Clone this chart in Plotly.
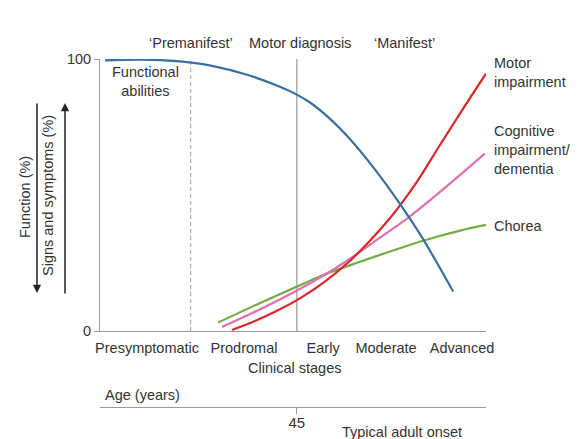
import plotly.graph_objects as go

# ---- data (x = disease progression 0..100, y = % ) ----
func_x = [1.3, 10.4, 20.7, 29.3, 38.1, 46.6, 51.0, 54.4, 59.6, 64.8, 69.9, 75.1, 77.7, 83.7, 91.5]
func_y = [99.5, 99.8, 99.1, 97.4, 94.2, 89.8, 86.9, 84.0, 78.0, 70.5, 61.8, 52.0, 46.7, 33.8, 14.5]

motor_x = [34.2, 40.0, 46.0, 52.0, 58.0, 64.0, 70.0, 76.0, 82.0, 88.0, 94.0, 100.0]
motor_y = [0.4, 3.6, 7.5, 12.2, 17.9, 24.8, 33.3, 43.0, 54.6, 68.2, 81.6, 94.6]

cog_x = [31.6, 41.5, 51.3, 57.8, 64.2, 70.7, 79.8, 86.3, 93.0, 99.7]
cog_y = [1.5, 8.0, 15.1, 20.3, 26.0, 32.5, 41.6, 49.0, 57.0, 65.2]

chorea_x = [30.6, 41.5, 51.3, 57.8, 66.6, 75.1, 83.7, 93.3, 100.0]
chorea_y = [3.1, 10.3, 16.5, 20.6, 25.1, 29.2, 33.2, 36.9, 39.0]

stage_pos = [12.2, 37.3, 57.8, 74.1, 93.8]
stage_labels = ["Presymptomatic", "Prodromal", "Early", "Moderate", "Advanced"]

premanifest_boundary = 23.5
motor_diagnosis = 51.0
phase_pos = [23.6, 51.8, 79.0]
phase_labels = ["\u2018Premanifest\u2019", "Motor diagnosis", "\u2018Manifest\u2019"]

age_tick_pos = [51.0]
age_tick_labels = ["45"]

FONT = "Liberation Sans, Arial, sans-serif"
TXT = "#333333"
AX = "#9a9a9a"
FS = 14.5

fig = go.Figure()

# stage boundaries
fig.add_trace(go.Scatter(x=[premanifest_boundary] * 2, y=[0, 100], mode="lines",
                         line=dict(color="#a0a0a0", width=1, dash="4px,3px"),
                         hoverinfo="skip", showlegend=False))
fig.add_trace(go.Scatter(x=[motor_diagnosis] * 2, y=[0, 100], mode="lines",
                         line=dict(color="#a0a0a0", width=1.3),
                         hoverinfo="skip", showlegend=False))

series = [
    (chorea_x, chorea_y, "#74ad45"),
    (cog_x, cog_y, "#e070b0"),
    (motor_x, motor_y, "#d8282c"),
    (func_x, func_y, "#3b6f9e"),
]
for xs, ys, c in series:
    fig.add_trace(go.Scatter(x=xs, y=ys, mode="lines",
                             line=dict(color=c, width=2.2, shape="spline", smoothing=0.8),
                             showlegend=False, cliponaxis=False))

# invisible trace so the age axis is drawn
fig.add_trace(go.Scatter(x=age_tick_pos, y=[-200], xaxis="x2", mode="markers",
                         marker=dict(opacity=0), hoverinfo="skip", showlegend=False))

f = dict(size=FS, color=TXT, family=FONT)
C = dict(xanchor="center", yanchor="middle", showarrow=False, font=f)
ann = []
for p, t in zip(phase_pos, phase_labels):
    ann.append(dict(x=p, y=1.0431, xref="x", yref="paper", text=t, **C))
ann.append(dict(x=11.9, y=91.9, xref="x", yref="y", text="Functional<br>abilities", **C))
right = [("Motor<br>impairment", 0.9623), ("Cognitive<br>impairment/<br>dementia", 0.7547),
         ("Chorea", 0.5499)]
for t, yv in right:
    ann.append(dict(x=1.0155, y=yv, xref="paper", yref="paper", text=t, showarrow=False,
                    xanchor="left", yanchor="middle", align="left", font=f))
ann.append(dict(x=50.5, y=0.1671, xref="x", yref="paper", text="Clinical stages", **C))
ann.append(dict(x=0.8, y=0.0943, xref="x", yref="paper", text="Age (years)", showarrow=False,
                xanchor="left", yanchor="middle", font=f))
ann.append(dict(x=62.2, y=-0.0045, xref="x", yref="paper", text="Typical adult onset",
                showarrow=False, xanchor="left", yanchor="middle", font=f))
# left vertical labels
ann.append(dict(x=-0.1943, y=0.628, xref="paper", yref="paper", text="Function (%)",
                textangle=-90, **C))
ann.append(dict(x=-0.1347, y=0.6307, xref="paper", yref="paper", text="Signs and symptoms (%)",
                textangle=-90, **C))
# arrows
ann.append(dict(x=-0.1632, y=0.3693, xref="paper", yref="paper", ax=0, ay=-191,
                text="", showarrow=True, arrowhead=2, arrowsize=1.1, arrowwidth=1.5,
                arrowcolor="#222"))
ann.append(dict(x=-0.0907, y=0.8814, xref="paper", yref="paper", ax=0, ay=192,
                text="", showarrow=True, arrowhead=2, arrowsize=1.1, arrowwidth=1.5,
                arrowcolor="#222"))

fig.update_layout(
    width=580, height=431, autosize=False,
    margin=dict(l=92, r=102, t=51, b=9, autoexpand=False),
    paper_bgcolor="white", plot_bgcolor="white",
    font=dict(family=FONT, size=FS, color=TXT),
    annotations=ann,
    xaxis=dict(range=[0, 100], showgrid=False, zeroline=False, showline=True, automargin=False,
               linecolor=AX, linewidth=1, tickvals=stage_pos, ticktext=stage_labels,
               ticks="outside", ticklen=4, tickcolor="rgba(0,0,0,0)",
               tickfont=f, anchor="y"),
    xaxis2=dict(range=[0, 100], overlaying="x", anchor="free", position=0.062, side="bottom",
                showgrid=False, zeroline=False, showline=True, linecolor=AX, linewidth=1,
                automargin=False, ticklabelstandoff=-4,
                tickvals=age_tick_pos, ticktext=age_tick_labels, ticks="outside", ticklen=6,
                tickcolor=AX, tickfont=dict(size=15, color=TXT, family=FONT)),
    yaxis=dict(range=[0, 100], domain=[(430 - 331) / 371, 1], showgrid=False, zeroline=False,
               showline=True, linecolor=AX, linewidth=1, tickvals=[0, 100], automargin=False,
               ticks="outside", ticklen=5, tickcolor=AX, tickfont=f),
)

fig.write_html("out.html")
